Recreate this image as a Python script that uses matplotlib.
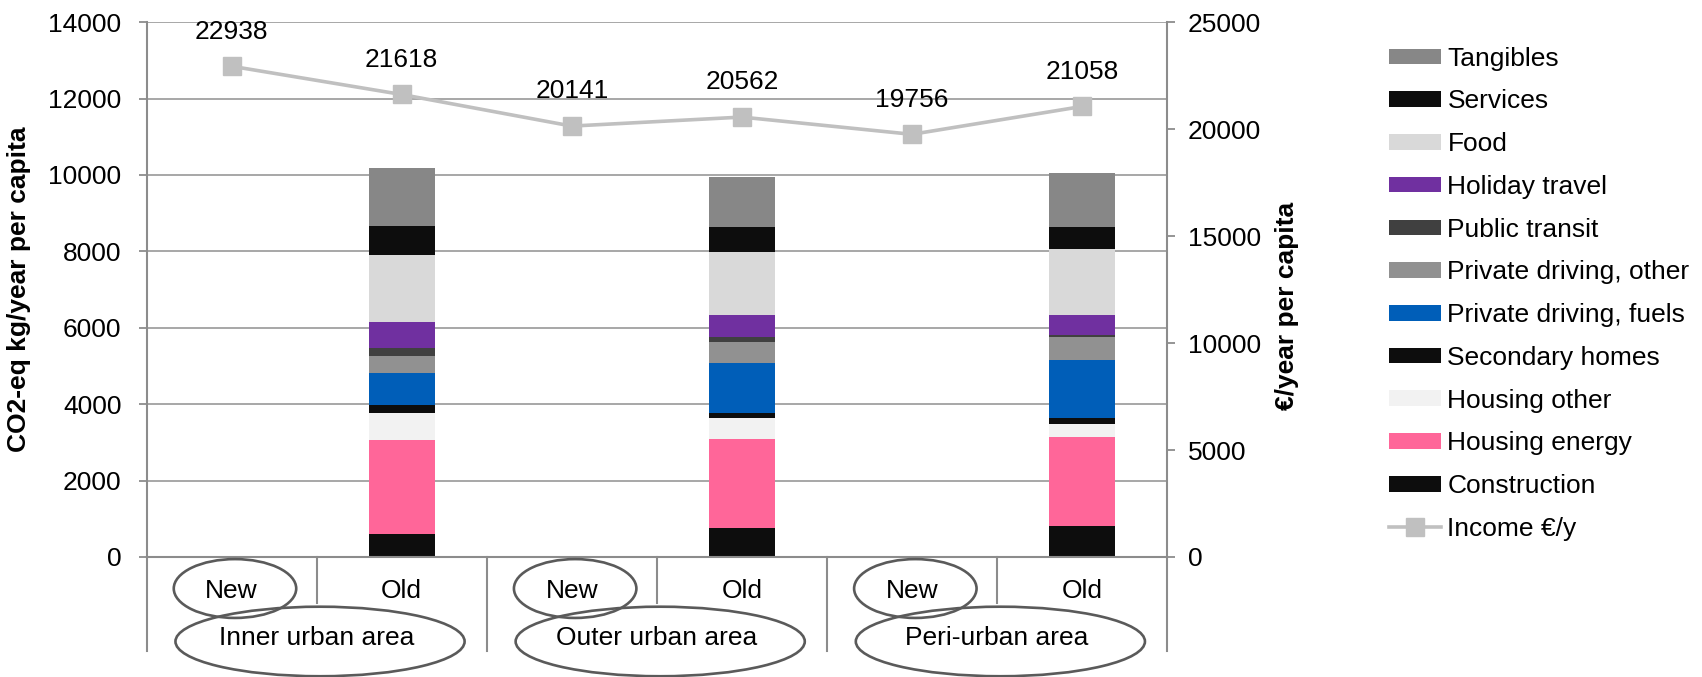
import numpy as np
import matplotlib
matplotlib.use("Agg")
import matplotlib.pyplot as plt
import matplotlib.transforms as mtransforms
from matplotlib.patches import Ellipse, Patch
from matplotlib.lines import Line2D

plt.rcParams['font.family'] = ['Liberation Sans', 'DejaVu Sans']
plt.rcParams['font.size'] = 19

# categories: two levels (building age within area type)
sub_labels = ['New', 'Old', 'New', 'Old', 'New', 'Old']
group_labels = ['Inner urban area', 'Outer urban area', 'Peri-urban area']

# emissions, CO2-eq kg/year per capita (only the "Old" columns carry bars)
construction = [600, 770, 800]
housing_energy = [2450, 2320, 2340]
housing_other = [730, 540, 350]
secondary_homes = [185, 150, 150]
driving_fuels = [850, 1300, 1510]
driving_other = [445, 560, 620]
public_transit = [210, 110, 45]
holiday_travel = [670, 595, 530]
food = [1775, 1640, 1720]
services = [750, 640, 570]
tangibles = [1510, 1330, 1405]

# income, euro/year per capita, one value per column
income = [22938, 21618, 20141, 20562, 19756, 21058]

series = [
    ('Construction', construction, '#0d0d0d'),
    ('Housing energy', housing_energy, '#ff6699'),
    ('Housing other', housing_other, '#f2f2f2'),
    ('Secondary homes', secondary_homes, '#0d0d0d'),
    ('Private driving, fuels', driving_fuels, '#005eb8'),
    ('Private driving, other', driving_other, '#919191'),
    ('Public transit', public_transit, '#404040'),
    ('Holiday travel', holiday_travel, '#7030a0'),
    ('Food', food, '#d9d9d9'),
    ('Services', services, '#0d0d0d'),
    ('Tangibles', tangibles, '#878787'),
]

grid_col = '#a0a0a0'
axis_col = '#8c8c8c'
line_col = '#c0c0c0'
ring_col = '#5a5a5a'

fig = plt.figure(figsize=(17.02, 6.77), dpi=100)
ax = fig.add_axes([0.0861, 0.1773, 0.5996, 0.790])

x = np.arange(len(sub_labels))
old_x = x[[i for i, s in enumerate(sub_labels) if s == 'Old']]

bottom = np.zeros(len(old_x))
for name, vals, col in series:
    ax.bar(old_x, vals, 0.39, bottom=bottom, color=col, zorder=2)
    bottom += np.array(vals)

ax.set_xlim(-0.5, len(sub_labels) - 0.5)
ax.set_ylim(0, 14000)
ax.set_yticks(np.arange(0, 14001, 2000))
ax.set_xticks([])
ax.yaxis.grid(True, color=grid_col, lw=1.3)
ax.set_axisbelow(True)
for s in ['top', 'right']:
    ax.spines[s].set_visible(False)
for s in ['left', 'bottom']:
    ax.spines[s].set_color(axis_col)
    ax.spines[s].set_linewidth(1.5)
ax.tick_params(axis='y', direction='out', length=6, width=1.3, color=axis_col, pad=12)
ax.set_ylabel('CO2-eq kg/year per capita', fontweight='bold')
ax.yaxis.set_label_coords(-0.113, 0.5)

ax2 = ax.twinx()
ax2.set_ylim(0, 25000)
ax2.set_yticks(np.arange(0, 25001, 5000))
for s in ['top', 'left', 'bottom']:
    ax2.spines[s].set_visible(False)
ax2.spines['right'].set_color(axis_col)
ax2.spines['right'].set_linewidth(1.5)
ax2.tick_params(axis='y', direction='out', length=6, width=1.3, color=axis_col, pad=9)
ax2.set_ylabel('€/year per capita', fontweight='bold')
ax2.yaxis.set_label_coords(1.106, 0.47)

ax2.plot(x, income, color=line_col, lw=2.6, marker='s', markersize=13,
         markeredgecolor=line_col, markerfacecolor=line_col, zorder=3)
for xi, v in zip(x, income):
    ax2.annotate(str(v), (xi, v), xytext=(0, 25), textcoords='offset points',
                 ha='center', va='center')

# two-level category axis drawn under the plot
trans = mtransforms.blended_transform_factory(ax.transData, ax.transAxes)
for b in np.arange(-0.5, len(sub_labels), 1.0):
    long_line = int(round(b + 0.5)) % 2 == 0
    y_end = -0.176 if long_line else -0.086
    ax.plot([b, b], [0, y_end], color=axis_col, lw=1.5, transform=trans,
            clip_on=False, zorder=1)

for xi, lab in zip(x, sub_labels):
    ax.text(xi, -0.063, lab, transform=trans, ha='center', va='center', zorder=6)
    if lab == 'New':
        ax.add_patch(Ellipse((xi + 0.02, -0.059), 0.72, 0.110, transform=trans,
                             facecolor='white', edgecolor=ring_col, lw=1.9,
                             clip_on=False, zorder=5))

for gi, lab in enumerate(group_labels):
    gx = 2 * gi + 0.5
    ax.text(gx, -0.151, lab, transform=trans, ha='center', va='center', zorder=8)
    ax.add_patch(Ellipse((gx + 0.02, -0.158), 1.70, 0.130, transform=trans,
                         facecolor='none', edgecolor=ring_col, lw=1.9,
                         clip_on=False, zorder=7))

handles = [Patch(facecolor=col, edgecolor='none', label=name)
           for name, vals, col in reversed(series)]
handles.append(Line2D([], [], color=line_col, lw=2.6, marker='s', markersize=13,
                      label='Income €/y'))
fig.legend(handles=handles, loc='upper left', bbox_to_anchor=(0.816, 0.931),
           frameon=False, borderpad=0, borderaxespad=0, handlelength=1.97,
           handleheight=0.53, handletextpad=0.25, labelspacing=0.71)

fig.savefig('out.png', dpi=100)
